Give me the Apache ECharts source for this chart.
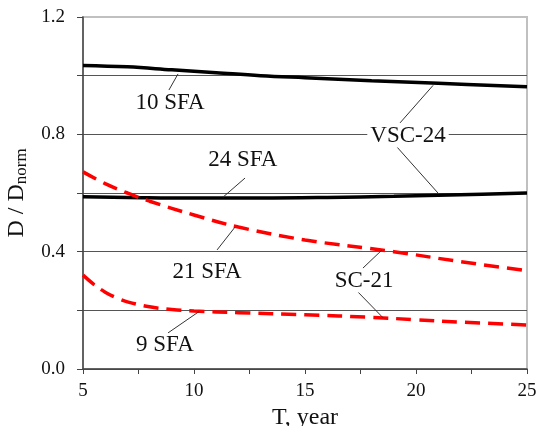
<!DOCTYPE html>
<html>
<head>
<meta charset="utf-8">
<script src="https://cdn.jsdelivr.net/npm/echarts@6/dist/echarts.min.js"></script>
<style>
html, body { margin: 0; padding: 0; background: #fff; }
#main { width: 537px; height: 426px; }
</style>
</head>
<body>
<div id="main"></div>
<script>
// VSC-24 cask, black solid lines
var vsc10 = [[5, 1.035], [7, 1.03], [9, 1.02], [11, 1.01], [13, 1.0], [15, 0.993], [18, 0.983], [21, 0.974], [25, 0.962]];
var vsc24 = [[5, 0.587], [7, 0.585], [10, 0.583], [13, 0.583], [16, 0.585], [19, 0.589], [22, 0.594], [25, 0.6]];
// SC-21 cask, red dashed lines
var sc21 = [[5, 0.672], [6, 0.632], [7, 0.6], [8, 0.572], [10, 0.525], [12, 0.484], [15, 0.44], [19, 0.4], [22, 0.366], [25, 0.335]];
var sc9 = [[5, 0.32], [5.5, 0.288], [6, 0.262], [6.5, 0.243], [7, 0.229], [8, 0.212], [9, 0.203], [10, 0.198], [12, 0.192], [15, 0.185], [18, 0.176], [20, 0.168], [22, 0.16], [25, 0.15]];

// callouts: text centre and leader lines, in data units
var notes = [
    { text: '10 SFA', at: [8.92, 0.907], leads: [[[8.87, 0.951], [9.28, 1.006]]] },
    { text: '24 SFA', at: [12.2, 0.713], leads: [[[11.31, 0.586], [12.3, 0.651]]] },
    { text: 'VSC-24', at: [19.64, 0.794], leads: [[[19.28, 0.839], [20.77, 0.967]], [[19.14, 0.757], [20.99, 0.6]]] },
    { text: '21 SFA', at: [10.59, 0.331], leads: [[[11.04, 0.406], [11.85, 0.484]]] },
    { text: '9 SFA', at: [8.69, 0.082], leads: [[[8.83, 0.123], [10.23, 0.196]]] },
    { text: 'SC-21', at: [17.66, 0.3], leads: [[[17.61, 0.344], [18.47, 0.406]], [[17.34, 0.266], [18.51, 0.175]]] }
];

var serif = '"Liberation Serif", "Times New Roman", serif';
var myChart = echarts.init(document.getElementById('main'));

function line(name, data, color, dashed) {
    return {
        name: name,
        type: 'line',
        data: data,
        smooth: 0.4,
        showSymbol: false,
        silent: true,
        lineStyle: { color: color, width: 3.5, type: dashed ? [15, 8] : 'solid' },
        z: 3
    };
}

var option = {
    animation: false,
    textStyle: { fontFamily: serif },
    grid: {
        left: 83, right: 10, top: 17, bottom: 57,
        outerBoundsMode: 'none',
        show: true, borderColor: '#c0c0c0', borderWidth: 2
    },
    xAxis: {
        type: 'value',
        min: 5, max: 25, interval: 2.5,
        name: 'T, year',
        nameLocation: 'middle',
        nameGap: 35,
        nameTextStyle: { fontFamily: serif, fontSize: 24, color: '#111' },
        axisLine: { lineStyle: { color: '#444', width: 1.5 } },
        axisTick: { inside: false, length: 5, lineStyle: { color: '#444' } },
        axisLabel: {
            margin: 13, fontFamily: serif, fontSize: 19, color: '#111',
            formatter: function (v) { return v % 5 === 0 ? String(v) : ''; }
        },
        splitLine: { show: false }
    },
    yAxis: {
        type: 'value',
        min: 0, max: 1.2, interval: 0.2,
        name: '{a|D / D}{b|norm}',
        nameLocation: 'middle',
        nameGap: 47,
        nameTextStyle: {
            fontFamily: serif, fontSize: 24, color: '#111',
            rich: {
                a: { fontFamily: serif, fontSize: 24, color: '#111' },
                b: { fontFamily: serif, fontSize: 17, color: '#111', verticalAlign: 'bottom', padding: [10, 0, 0, 0] }
            }
        },
        axisLine: { show: true, lineStyle: { color: '#444', width: 1.5 } },
        axisTick: { show: true, inside: false, length: 6, lineStyle: { color: '#444' } },
        axisLabel: {
            margin: 18, fontFamily: serif, fontSize: 19, color: '#111',
            formatter: function (v) {
                var r = Math.round(v * 10);
                return r % 4 === 0 ? (r / 10).toFixed(1) : '';
            }
        },
        splitLine: { show: true, lineStyle: { color: ['#555', '#555', '#555', '#555', '#555', '#555', '#c0c0c0'], width: 1 } }
    },
    series: [
        line('10 SFA', vsc10, '#000', false),
        line('24 SFA', vsc24, '#000', false),
        line('21 SFA', sc21, '#ff0000', true),
        line('9 SFA', sc9, '#ff0000', true)
    ]
};
myChart.setOption(option);

// leader lines + callout texts placed through the axes
var els = [];
notes.forEach(function (n) {
    n.leads.forEach(function (l) {
        var p0 = myChart.convertToPixel({ gridIndex: 0 }, l[0]);
        var p1 = myChart.convertToPixel({ gridIndex: 0 }, l[1]);
        els.push({
            type: 'line', z: 10, silent: true,
            shape: { x1: p0[0], y1: p0[1], x2: p1[0], y2: p1[1] },
            style: { stroke: '#333', lineWidth: 1 }
        });
    });
    var c = myChart.convertToPixel({ gridIndex: 0 }, n.at);
    els.push({
        type: 'text', z: 11, silent: true,
        x: c[0], y: c[1],
        style: {
            text: n.text, fontFamily: serif, fontSize: 23, fill: '#111',
            align: 'center', verticalAlign: 'middle',
            backgroundColor: '#fff', padding: [0, 3]
        }
    });
});
myChart.setOption({ graphic: els });

window.onresize = function () {
    myChart.resize();
};
</script>
</body>
</html>
